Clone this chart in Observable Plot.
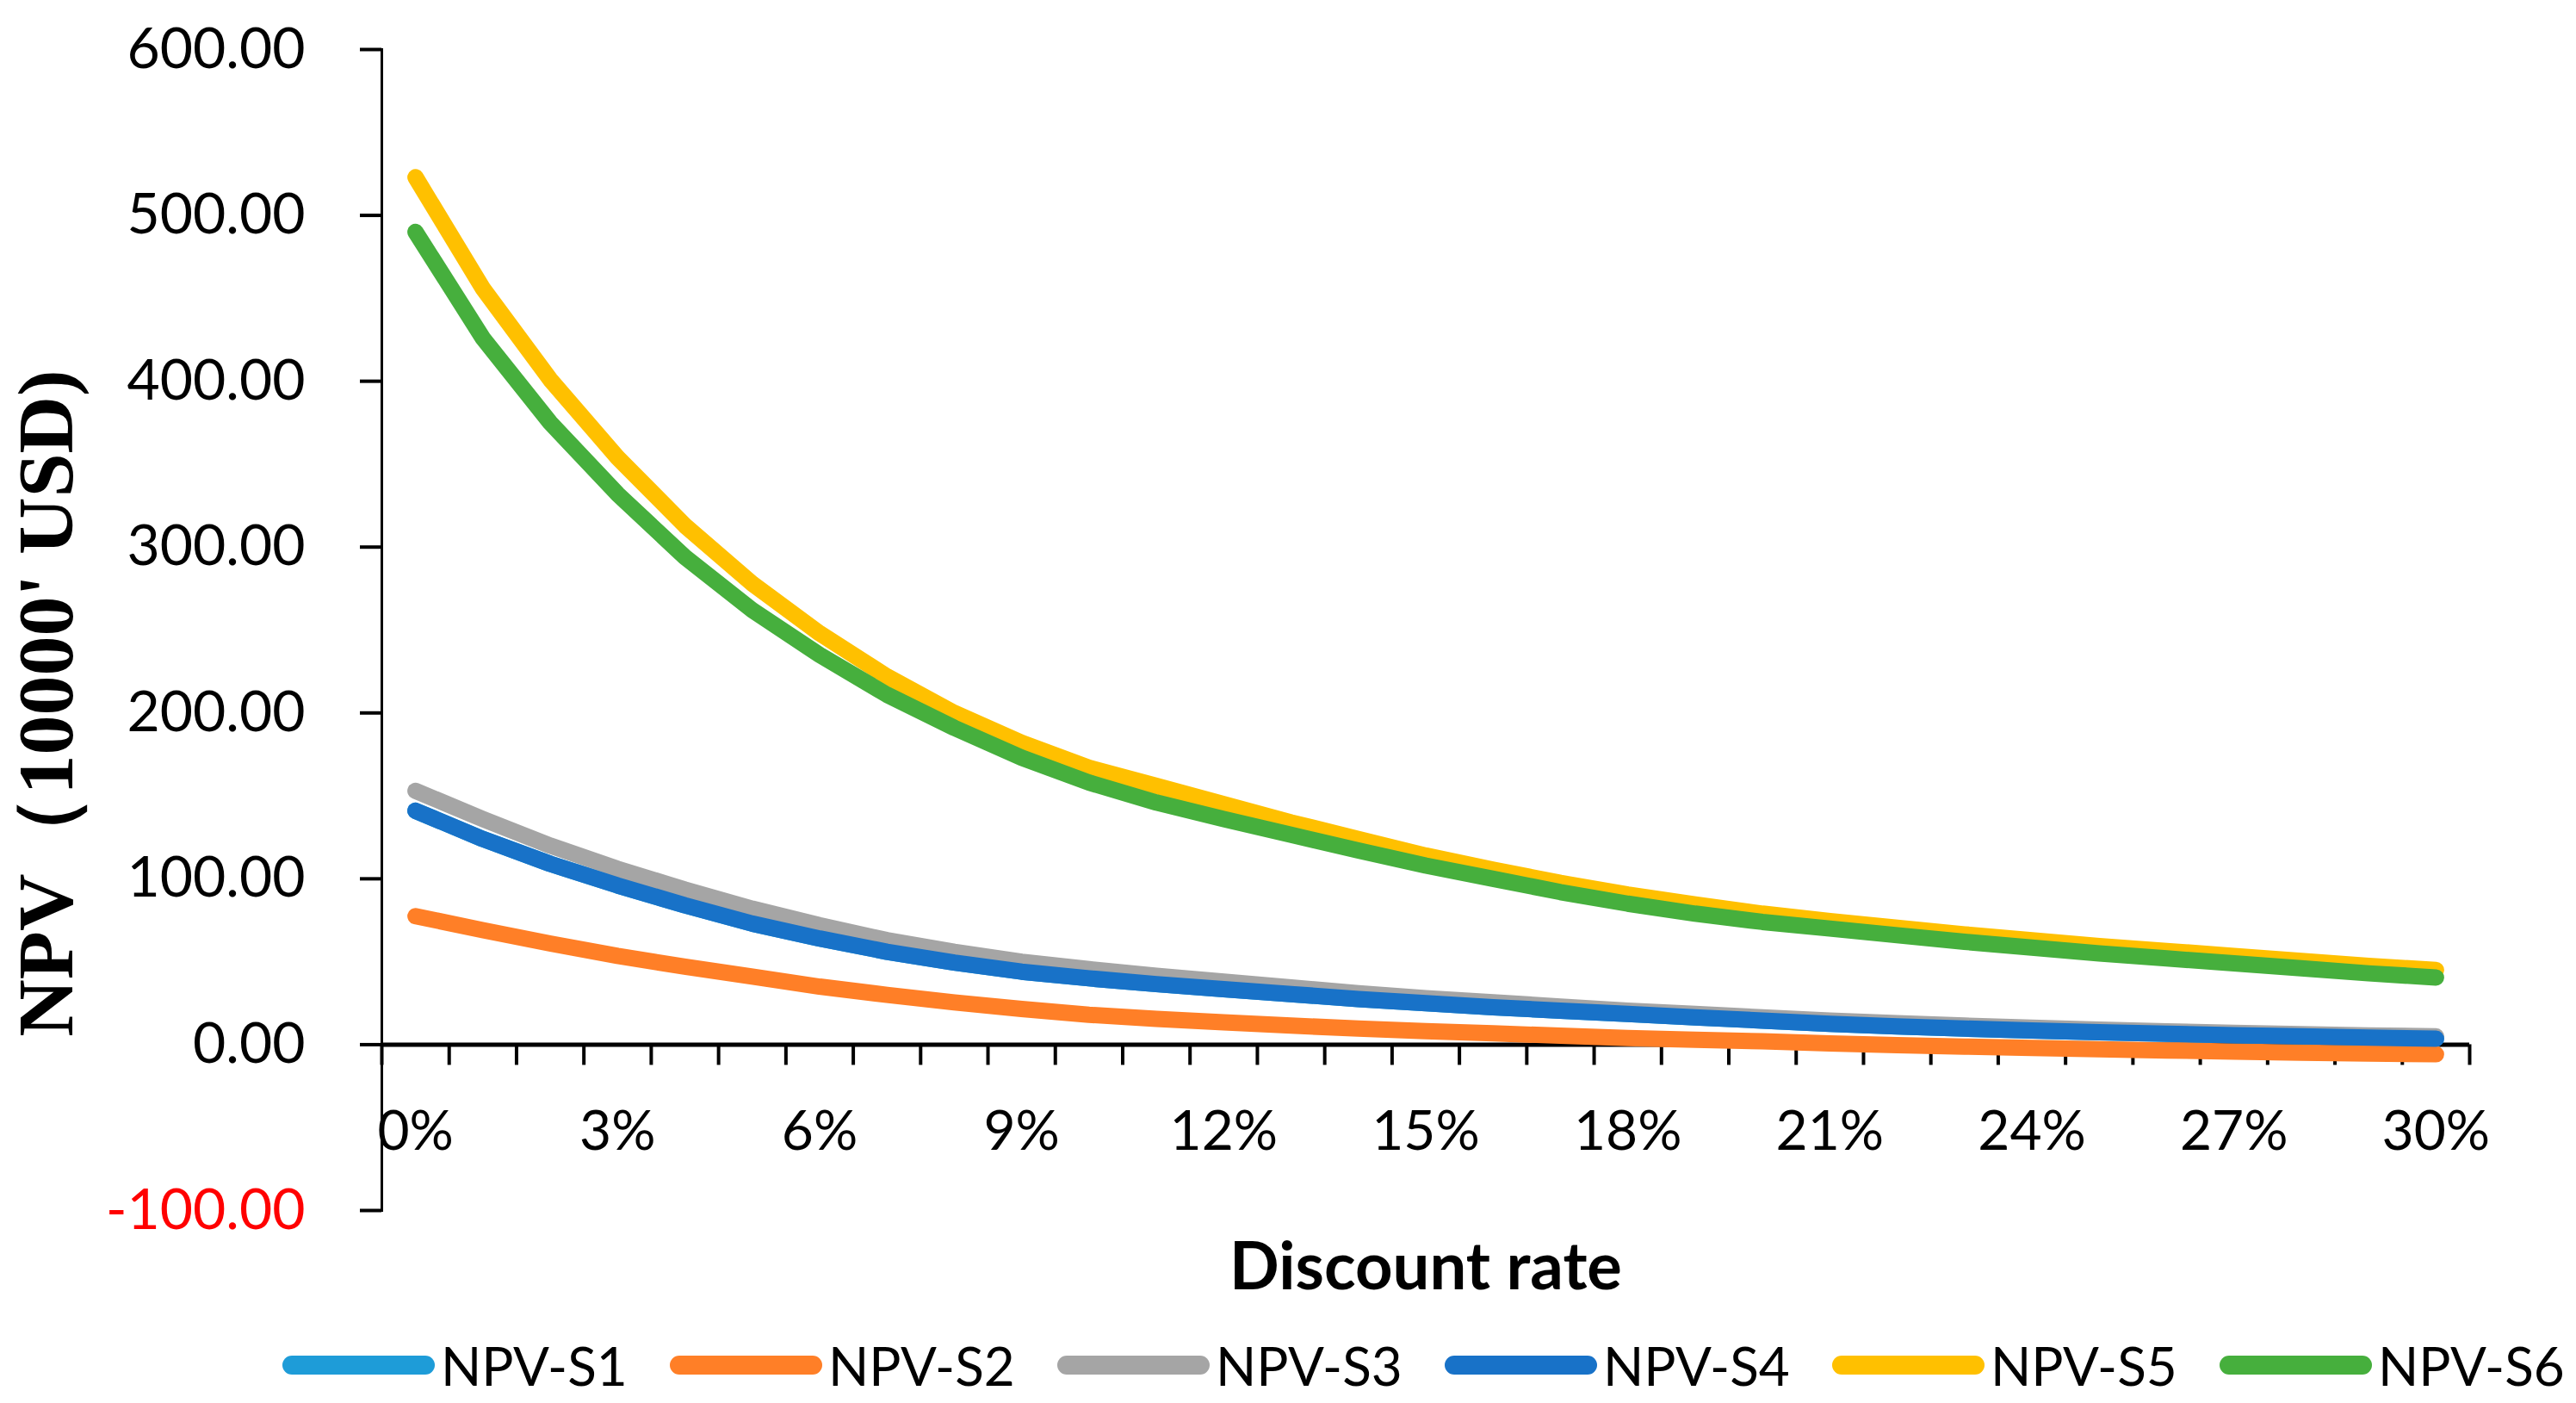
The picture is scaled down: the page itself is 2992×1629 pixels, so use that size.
<!DOCTYPE html>
<html>
<head>
<meta charset="utf-8">
<script src="https://cdn.jsdelivr.net/npm/d3@7"></script>
<script src="https://cdn.jsdelivr.net/npm/@observablehq/plot@0.6"></script>
<style>
html, body { margin: 0; padding: 0; background: #fff; overflow: hidden; }
#legend { height: 99px; display: flex; align-items: center; padding-left: 328px; padding-top: 10px; box-sizing: border-box; font-family: Lato, sans-serif; font-size: 62px; color: #000; }
.item { display: flex; align-items: center; width: 450px; flex: none; }
.sw { width: 177px; height: 22px; border-radius: 11px; margin-right: 7px; flex: none; }
.lab { line-height: 1; white-space: nowrap; }
</style>
</head>
<body>
<div id="chart"></div>
<div id="legend"></div>
<script>
// ---- data ----
const rates = [0,1,2,3,4,5,6,7,8,9,10,11,12,13,14,15,16,17,18,19,20,21,22,23,24,25,26,27,28,29,30];
const xTickRates = [0,3,6,9,12,15,18,21,24,27,30];
const xTickLabels = ["0%","3%","6%","9%","12%","15%","18%","21%","24%","27%","30%"];
const yTicks = [0,100,200,300,400,500,600];
const yNegTicks = [-100];
const seriesNames = ["NPV-S1","NPV-S2","NPV-S3","NPV-S4","NPV-S5","NPV-S6"];
const seriesColors = ["#1E9CD8","#FF7F27","#A5A5A5","#1872C8","#FFC000","#46AF3D"];

const npvS1 = [141,124,109,96,84,73,64,56,49.5,44,40,36.5,33.5,30.5,27.5,25,22.5,20.5,18.5,16.5,14.5,12.5,11,9.7,8.5,7.5,6.6,5.7,5,4.3,3.6];
const npvS2 = [77.5,69,61,53.5,47,41,35,30,25.5,21.5,18,15.5,13.5,11.5,9.7,8.2,6.8,5.4,4,3,2,0.8,-0.3,-1.2,-2,-2.8,-3.5,-4.2,-4.8,-5.3,-5.8];
const npvS3 = [153,136,120,106,93.5,82,72,63,56,50,45.5,41.5,38,34.5,31,28,25.5,23,20.5,18.5,16.5,14.5,13,11.5,10.2,9,8,7.1,6.3,5.6,5];
const npvS4 = [141,124,109,96,84,73,64,56,49.5,44,40,36.5,33.5,30.5,27.5,25,22.5,20.5,18.5,16.5,14.5,12.5,11,9.7,8.5,7.5,6.6,5.7,5,4.3,3.6];
const npvS5 = [523,456,401,354,313,278,248,222,200,182,167,156,145,134,124,114,105.5,97.5,90.5,84.5,79,74.5,70.5,66.5,63,59.5,56.5,53.5,50.5,47.5,45];
const npvS6 = [490,426,375,332,294,262,235,211,191,173,158,146,136,126.5,117,108,100,92,85,79,74,70,66,62,58.5,55,52,49,46,43,40.5];

const seriesValues = [npvS1, npvS2, npvS3, npvS4, npvS5, npvS6];

// ---- build ----
const W = 2992, H = 1530;
const mLeft = 443, mRight = 124, mTop = 57, mBottom = 125;
const xDomain = [rates[0] - 0.5, rates[rates.length - 1] + 0.5];
const yDomain = [yNegTicks[0], yTicks[yTicks.length - 1]];
const boundaries = rates.map(r => r - 0.5).concat([rates[rates.length - 1] + 0.5]);
const fmt = d => d.toFixed(2);

const lineMarks = seriesValues.map((vals, k) =>
  Plot.line(rates.map((r, i) => ({rate: r, v: vals[i]})), {
    x: "rate", y: "v", stroke: seriesColors[k], strokeWidth: 19,
    strokeLinecap: "round", strokeLinejoin: "round"
  })
);

const chart = Plot.plot({
  width: W, height: H,
  marginLeft: mLeft, marginRight: mRight, marginTop: mTop, marginBottom: mBottom,
  style: {fontFamily: "Lato, sans-serif", background: "white", color: "black"},
  x: {type: "linear", domain: xDomain, axis: null},
  y: {type: "linear", domain: yDomain},
  marks: [
    Plot.axisY(yTicks, {anchor: "left", tickSize: 25, tickPadding: 64, strokeWidth: 4,
      tickFormat: fmt, fontSize: 66, label: null}),
    Plot.axisY(yNegTicks, {anchor: "left", tickSize: 25, tickPadding: 64, strokeWidth: 4,
      tickFormat: fmt, fontSize: 66, fill: "#FF0000", label: null}),
    Plot.frame({anchor: "left", strokeWidth: 3, stroke: "black"}),
    Plot.ruleY([0], {stroke: "black", strokeWidth: 5}),
    Plot.ruleX(boundaries, {x: d => d, y1: 0, y2: 0, insetBottom: -24, stroke: "black", strokeWidth: 4}),
    Plot.text(xTickRates, {x: d => d, y: 0, text: (d, i) => xTickLabels[i], dy: 102, fontSize: 64, fill: "black"}),
    Plot.text(["Discount rate"], {frameAnchor: "bottom", textAnchor: "middle", lineAnchor: "middle", dy: 67,
      fontSize: 76, fontWeight: "bold", fill: "black"}),
    Plot.text(["NPV（10000' USD)"], {frameAnchor: "left", textAnchor: "middle", lineAnchor: "middle", rotate: -90,
      dx: 54 - mLeft, dy: 816 - (mTop + H - mBottom) / 2,
      fontSize: 92, fontWeight: "bold", fontFamily: "Liberation Serif, serif", fill: "black"}),
    ...lineMarks
  ]
});
document.getElementById("chart").appendChild(chart);

// ---- legend ----
const legend = document.getElementById("legend");
seriesNames.forEach((name, k) => {
  const item = document.createElement("div");
  item.className = "item";
  const sw = document.createElement("div");
  sw.className = "sw";
  sw.style.background = seriesColors[k];
  const lab = document.createElement("span");
  lab.className = "lab";
  lab.textContent = name;
  item.appendChild(sw);
  item.appendChild(lab);
  legend.appendChild(item);
});
</script>
</body>
</html>
